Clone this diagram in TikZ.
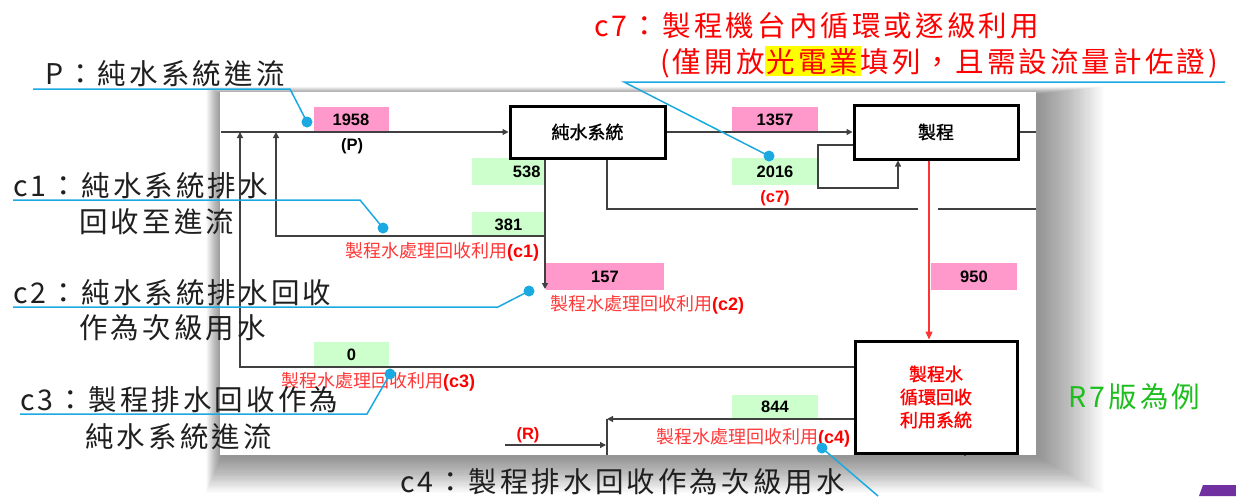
\documentclass[tikz,border=0pt]{standalone}
\usepackage{fontspec}
\setmainfont{Liberation Sans}
\newfontfamily\cjk{Noto Sans CJK TC}
\newfontfamily\cjkL{Noto Sans CJK TC}[LetterSpace=11]
\newfontfamily\cjkB{Noto Sans CJK TC}[FakeBold=1.2]
\usetikzlibrary{arrows.meta,calc}
\definecolor{lineg}{HTML}{404040}
\definecolor{cyanc}{HTML}{1BA9E1}
\definecolor{pinkc}{HTML}{FF99CC}
\definecolor{greenc}{HTML}{CCFFCC}
\definecolor{redl}{HTML}{FF3838}
\definecolor{greent}{HTML}{1DBE1D}
\definecolor{purp}{HTML}{7030A0}
\definecolor{hl}{HTML}{FFFF00}
\begin{document}
\begin{tikzpicture}[x=1pt,y=-1pt,
  flow/.style={draw=lineg,line width=1.2pt},
  arr/.style={flow,-{Triangle[length=6pt,width=6pt]}},
  redarr/.style={draw=red!80,line width=1.2pt,-{Triangle[length=8pt,width=7pt]}},
  procbox/.style={draw=black,line width=3pt,fill=white,inner sep=0pt,font=\cjkB\fontsize{18}{23}\selectfont},
  val/.style={inner sep=0pt,font=\bfseries\fontsize{16.5}{18}\selectfont},
  pinkv/.style={val,fill=pinkc},
  greenv/.style={val,fill=greenc},
  call/.style={anchor=base west,inner sep=0pt,font=\cjkL\fontsize{28.5}{34}\selectfont,text=black!88},
  cline/.style={draw=cyanc,line width=1.5pt},
  cdot/.style={circle,fill=cyanc,inner sep=0pt,minimum size=11pt},
  rlabel/.style={anchor=base west,inner sep=0pt,text=redl,font=\cjk\fontsize{18}{20}\selectfont},
  shadowlayer/.style={fill=black,opacity=0.014},
  ]
\useasboundingbox (0,0) rectangle (1236,496);
\fill[white] (0,0) rectangle (1236,496);
% screenshot panel with soft shadow
\foreach \i in {1,...,30}{
  \fill[shadowlayer] (221-0.5*\i,94-0.25*\i) rectangle (1038+2.2*\i,457+1.2*\i);
}
\fill[white] (220,92) rectangle (1036,455);
\fill[purp] (1203,485) -- (1236,485) -- (1236,496) -- (1199,496) -- cycle;

% value boxes
\node[pinkv,minimum width=75pt,minimum height=26pt] (v1958) at (351,119.5) {1958};
\node[pinkv,minimum width=86pt,minimum height=26pt] (v1357) at (775,119.5) {1357};
\node[greenv,minimum width=73pt,minimum height=27pt,text width=64pt,align=right] (v538) at (508.5,171.5) {538};
\node[greenv,minimum width=73pt,minimum height=25pt] (v381) at (508.5,224.5) {381};
\node[greenv,minimum width=86pt,minimum height=27pt] (v2016) at (775,171.5) {2016};
\node[pinkv,minimum width=118pt,minimum height=27pt] (v157) at (605,276.5) {157};
\node[pinkv,minimum width=86pt,minimum height=27pt] (v950) at (974,276.5) {950};
\node[greenv,minimum width=75pt,minimum height=25pt] (v0) at (351.5,354.5) {0};
\node[greenv,minimum width=86pt,minimum height=23pt] (v844) at (775,406.5) {844};

% process boxes
\node[procbox,minimum width=155pt,minimum height=52pt] (pw) at (587.5,132) {純水系統};
\node[procbox,minimum width=164pt,minimum height=54pt] (proc) at (936,132) {製程};
\node[procbox,minimum width=162pt,minimum height=112pt,text=red,align=center] (rec) at (936,397) {製程水\\循環回收\\利用系統};

% small labels
\node[val] (lP) at (352,146) {(P)};
\node[val,text=red] (lc7) at (775,198) {(c7)};
\node[val,text=red] (lR) at (528,435) {(R)};
\node[rlabel] (l1) at (345,257) {製程水處理回收利用{\normalfont\bfseries\color{red}(c1)}};
\node[rlabel] (l2) at (550,310) {製程水處理回收利用{\normalfont\bfseries\color{red}(c2)}};
\node[rlabel] (l3) at (281,387) {製程水處理回收利用{\normalfont\bfseries\color{red}(c3)}};
\node[rlabel] (l4) at (656,443) {製程水處理回收利用{\normalfont\bfseries\color{red}(c4)}};

% coordinates
\coordinate (inL) at (221,132);
\coordinate (t240) at (240,132);
\coordinate (t276) at (276,132);
\coordinate (d545) at (545,289);
\coordinate (j1) at (545,236);
\coordinate (d607) at (607,209);
\coordinate (g1) at (918,209);
\coordinate (g2) at (938,209);
\coordinate (outR2) at (1036,209);
\coordinate (pOut) at (1036,132);
\coordinate (lpA) at (818,145);
\coordinate (lpB) at (898,188);
\coordinate (rx) at (929,0);
\coordinate (y367) at (0,367);
\coordinate (y419) at (0,419);
\coordinate (a607) at (607,419);
\coordinate (b607) at (607,455);
\coordinate (rS) at (505,445);
\coordinate (rE) at (606,445);
\coordinate (x965) at (965,455);

% flows
\draw[arr] (inL) -- (pw.west);
\draw[arr] (pw.east) -- (proc.west);
\draw[flow] (proc.east) -- (pOut);
\draw[arr] (proc.west |- lpA) -- (lpA) |- (lpB) -- (lpB |- proc.south);
\draw[arr] (pw.south -| d545) -- (d545);
\draw[arr] (j1) -| (t276);
\draw[flow] (pw.south -| d607) -- (d607) -- (g1);
\draw[flow] (g2) -- (outR2);
\draw[redarr] (proc.south -| rx) -- (rec.north -| rx);
\draw[arr] (rec.west |- y367) -| (t240);
\draw[arr] (rec.west |- y419) -- (a607);
\draw[flow] (a607) -- (b607);
\draw[arr] (rS) -- (rE);
\draw[flow] (rec.south -| x965) -- (x965);

% callout texts
\node[call] (tP) at (45,84) {P：純水系統進流};
\node[call] (tc1a) at (13,196) {c1：純水系統排水};
\node[call] (tc1b) at (79,232) {回收至進流};
\node[call] (tc2a) at (13,303) {c2：純水系統排水回收};
\node[call] (tc2b) at (79,338) {作為次級用水};
\node[call] (tc3a) at (20,410) {c3：製程排水回收作為};
\node[call] (tc3b) at (85,447) {純水系統進流};
\node[call] (tc4) at (400,492) {c4：製程排水回收作為次級用水};
\node[call,text=red] (tc7a) at (594,36) {c7：製程機台內循環或逐級利用};
\node[call,text=red] (tc7b) at (660,72) {(僅開放{\setlength{\fboxsep}{2pt}\colorbox{hl}{光電業}}填列，且需設流量計佐證)};
\node[call,text=greent] (r7) at (1068,407) {R7版為例};

% callout lines
\node[cdot] (dP) at (307,122) {};
\node[cdot] (d1) at (383,228) {};
\node[cdot] (d2) at (529,291) {};
\node[cdot] (d3) at (390,374) {};
\node[cdot] (d4) at (822,448) {};
\node[cdot] (d7) at (769,156) {};
\coordinate (uP0) at (33,89); \coordinate (uP1) at (290,89);
\coordinate (u10) at (13,200); \coordinate (u11) at (360,200);
\coordinate (u20) at (13,307); \coordinate (u21) at (498,307);
\coordinate (u30) at (20,414); \coordinate (u31) at (367,414);
\coordinate (u40) at (878,496);
\coordinate (u70) at (1225,82); \coordinate (u71) at (624,82);
\draw[cline] (uP0) -- (uP1) -- (dP.center);
\draw[cline] (u10) -- (u11) -- (d1.center);
\draw[cline] (u20) -- (u21) -- (d2.center);
\draw[cline] (u30) -- (u31) -- (d3.center);
\draw[cline] (u40) -- (d4.center);
\draw[cline] (u70) -- (u71) -- (d7.center);
\end{tikzpicture}
\end{document}
